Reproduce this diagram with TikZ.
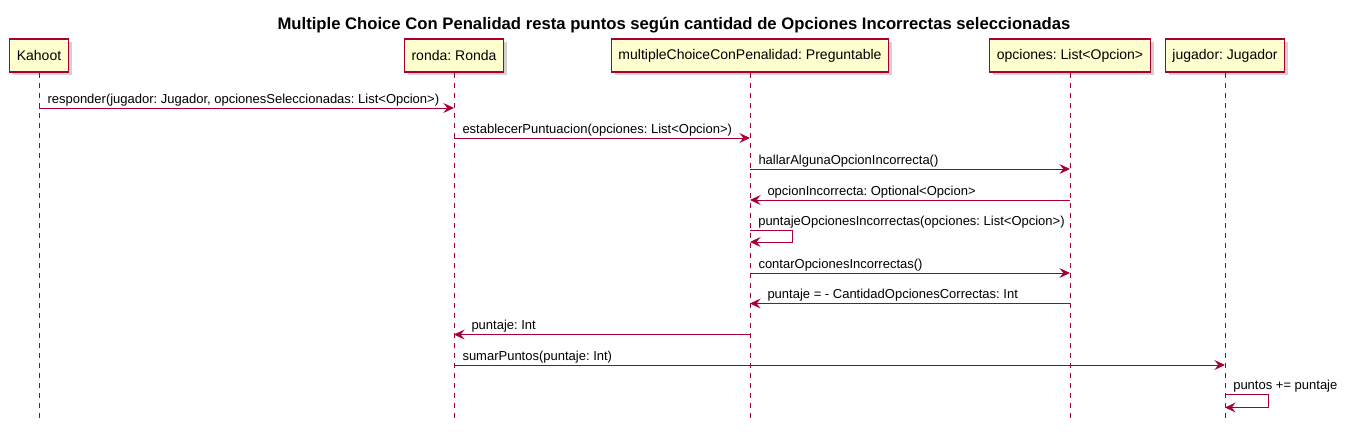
\documentclass[tikz,border=0pt]{standalone}
\usepackage{fontspec}
\setmainfont{Liberation Sans}
\usepackage{xcolor}
\usetikzlibrary{arrows.meta}
\usetikzlibrary{positioning,shadows}
\frenchspacing
\definecolor{umlred}{HTML}{A80036}
\definecolor{umlfill}{HTML}{FEFECE}
\tikzset{
    actor/.style={
        draw=umlred,
        fill=umlfill,
        line width=0.9pt,
        minimum height=24.75pt,
        inner xsep=5.25pt,
        font=\fontsize{10.5}{12}\selectfont,
        drop shadow={shadow xshift=2.5pt, shadow yshift=-2.5pt, fill=black!30, opacity=0.6}
    },
    lifeline/.style={
        draw=umlred,
        line width=0.75pt,
        dash pattern=on 3.75pt off 3.75pt
    },
    msg/.style={
        draw=umlred,
        line width=0.75pt,
        -{Stealth[length=8pt, width=7.5pt, inset=3pt]}
    },
    lbl/.style={
        font=\fontsize{9.75}{11}\selectfont,
        anchor=base west,
        inner sep=0pt
    }
}

\begin{document}
\begin{tikzpicture}[x=0.75pt, y=-0.75pt]
    \useasboundingbox (0,0) rectangle (1349,436);

    % Title
    \node[font=\fontsize{12.5}{14}\selectfont\bfseries, anchor=base] (title) at (674,29)
        {Multiple Choice Con Penalidad resta puntos según cantidad de Opciones Incorrectas seleccionadas};

    % Participants
    \node[actor] (kahoot) at (39,55.5) {Kahoot};
    \node[actor] (ronda) at (454,55.5) {ronda: Ronda};
    \node[actor] (mc) at (750,55.5) {multipleChoiceConPenalidad: Preguntable};
    \node[actor] (opc) at (1070,55.5) {opciones: List<Opcion>};
    \node[actor] (jug) at (1225,55.5) {jugador: Jugador};

    % Lifelines
    \coordinate (kahoot-end) at (39,421);
    \coordinate (ronda-end) at (454,421);
    \coordinate (mc-end) at (750,421);
    \coordinate (opc-end) at (1070,421);
    \coordinate (jug-end) at (1225,421);
    \draw[lifeline] (kahoot) -- (kahoot-end);
    \draw[lifeline] (ronda) -- (ronda-end);
    \draw[lifeline] (mc) -- (mc-end);
    \draw[lifeline] (opc) -- (opc-end);
    \draw[lifeline] (jug) -- (jug-end);

    % Messages
    \draw[msg] (kahoot |- 0,108) -- (ronda |- 0,108)
        node[lbl, pos=0, xshift=6pt, yshift=3.4pt] {responder(jugador: Jugador, opcionesSeleccionadas: List<Opcion>)};
    \draw[msg] (ronda |- 0,138) -- (mc |- 0,138)
        node[lbl, pos=0, xshift=6pt, yshift=3.4pt] {establecerPuntuacion(opciones: List<Opcion>)};
    \draw[msg] (mc |- 0,169) -- (opc |- 0,169)
        node[lbl, pos=0, xshift=6pt, yshift=3.4pt] {hallarAlgunaOpcionIncorrecta()};
    \draw[msg] (opc |- 0,200) -- (mc |- 0,200)
        node[lbl, pos=1, xshift=12.75pt, yshift=3.4pt] {opcionIncorrecta: Optional<Opcion>};
    \draw[msg] (mc |- 0,230.5) -- ++(42,0) -- ++(0,11.5) -- (mc |- 0,242);
    \node[lbl] (autopuntaje) at ([xshift=6pt, yshift=3.4pt]mc |- 0,230.5) {puntajeOpcionesIncorrectas(opciones: List<Opcion>)};
    \draw[msg] (mc |- 0,273) -- (opc |- 0,273)
        node[lbl, pos=0, xshift=6pt, yshift=3.4pt] {contarOpcionesIncorrectas()};
    \draw[msg] (opc |- 0,303.5) -- (mc |- 0,303.5)
        node[lbl, pos=1, xshift=12.75pt, yshift=3.4pt] {puntaje = - CantidadOpcionesCorrectas: Int};
    \draw[msg] (mc |- 0,334.5) -- (ronda |- 0,334.5)
        node[lbl, pos=1, xshift=12.75pt, yshift=3.4pt] {puntaje: Int};
    \draw[msg] (ronda |- 0,365) -- (jug |- 0,365)
        node[lbl, pos=0, xshift=6pt, yshift=3.4pt] {sumarPuntos(puntaje: Int)};
    \draw[msg] (jug |- 0,394.5) -- ++(43,0) -- ++(0,13) -- (jug |- 0,407.5);
    \node[lbl] (suma) at ([xshift=6pt, yshift=3.4pt]jug |- 0,394.5) {puntos += puntaje};
\end{tikzpicture}
\end{document}
